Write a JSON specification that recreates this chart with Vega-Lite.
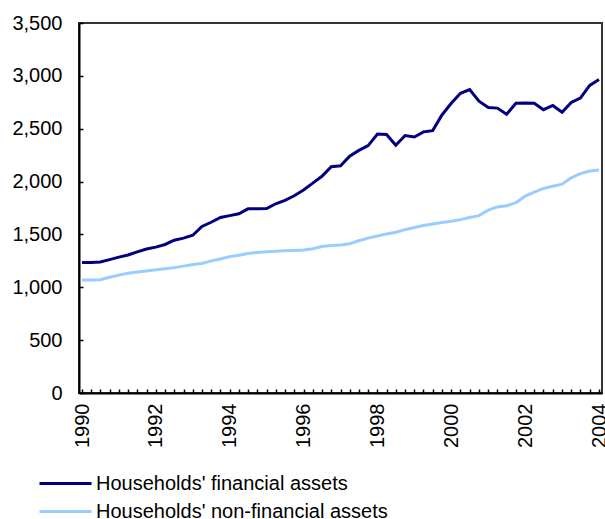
{
  "$schema": "https://vega.github.io/schema/vega-lite/v6.json",
  "width": 523,
  "height": 370,
  "autosize": {"type": "none"},
  "padding": {"left": 79, "top": 23, "right": 3, "bottom": 126},
  "background": "white",
  "config": {
    "font": "Liberation Sans",
    "view": {"stroke": "#333", "strokeWidth": 2},
    "axis": {"grid": false, "domainColor": "#000", "domainWidth": 2, "tickColor": "#000", "tickWidth": 1.5, "labelColor": "#000", "labelFont": "Liberation Sans", "labelFontSize": 20, "title": null}
  },
  "data": {"values": [
    {"date":"1990-01-01","series":"Households' financial assets","value":1235},
    {"date":"1990-04-01","series":"Households' financial assets","value":1235},
    {"date":"1990-07-01","series":"Households' financial assets","value":1240},
    {"date":"1990-10-01","series":"Households' financial assets","value":1262},
    {"date":"1991-01-01","series":"Households' financial assets","value":1285},
    {"date":"1991-04-01","series":"Households' financial assets","value":1305},
    {"date":"1991-07-01","series":"Households' financial assets","value":1335},
    {"date":"1991-10-01","series":"Households' financial assets","value":1362},
    {"date":"1992-01-01","series":"Households' financial assets","value":1380},
    {"date":"1992-04-01","series":"Households' financial assets","value":1405},
    {"date":"1992-07-01","series":"Households' financial assets","value":1445},
    {"date":"1992-10-01","series":"Households' financial assets","value":1465},
    {"date":"1993-01-01","series":"Households' financial assets","value":1492},
    {"date":"1993-04-01","series":"Households' financial assets","value":1575},
    {"date":"1993-07-01","series":"Households' financial assets","value":1615},
    {"date":"1993-10-01","series":"Households' financial assets","value":1660},
    {"date":"1994-01-01","series":"Households' financial assets","value":1678},
    {"date":"1994-04-01","series":"Households' financial assets","value":1695},
    {"date":"1994-07-01","series":"Households' financial assets","value":1742},
    {"date":"1994-10-01","series":"Households' financial assets","value":1742},
    {"date":"1995-01-01","series":"Households' financial assets","value":1745},
    {"date":"1995-04-01","series":"Households' financial assets","value":1790},
    {"date":"1995-07-01","series":"Households' financial assets","value":1822},
    {"date":"1995-10-01","series":"Households' financial assets","value":1866},
    {"date":"1996-01-01","series":"Households' financial assets","value":1920},
    {"date":"1996-04-01","series":"Households' financial assets","value":1985},
    {"date":"1996-07-01","series":"Households' financial assets","value":2050},
    {"date":"1996-10-01","series":"Households' financial assets","value":2140},
    {"date":"1997-01-01","series":"Households' financial assets","value":2150},
    {"date":"1997-04-01","series":"Households' financial assets","value":2240},
    {"date":"1997-07-01","series":"Households' financial assets","value":2295},
    {"date":"1997-10-01","series":"Households' financial assets","value":2340},
    {"date":"1998-01-01","series":"Households' financial assets","value":2450},
    {"date":"1998-04-01","series":"Households' financial assets","value":2445},
    {"date":"1998-07-01","series":"Households' financial assets","value":2343},
    {"date":"1998-10-01","series":"Households' financial assets","value":2435},
    {"date":"1999-01-01","series":"Households' financial assets","value":2422},
    {"date":"1999-04-01","series":"Households' financial assets","value":2470},
    {"date":"1999-07-01","series":"Households' financial assets","value":2482},
    {"date":"1999-10-01","series":"Households' financial assets","value":2630},
    {"date":"2000-01-01","series":"Households' financial assets","value":2740},
    {"date":"2000-04-01","series":"Households' financial assets","value":2835},
    {"date":"2000-07-01","series":"Households' financial assets","value":2870},
    {"date":"2000-10-01","series":"Households' financial assets","value":2760},
    {"date":"2001-01-01","series":"Households' financial assets","value":2700},
    {"date":"2001-04-01","series":"Households' financial assets","value":2695},
    {"date":"2001-07-01","series":"Households' financial assets","value":2637},
    {"date":"2001-10-01","series":"Households' financial assets","value":2740},
    {"date":"2002-01-01","series":"Households' financial assets","value":2744},
    {"date":"2002-04-01","series":"Households' financial assets","value":2740},
    {"date":"2002-07-01","series":"Households' financial assets","value":2680},
    {"date":"2002-10-01","series":"Households' financial assets","value":2720},
    {"date":"2003-01-01","series":"Households' financial assets","value":2655},
    {"date":"2003-04-01","series":"Households' financial assets","value":2748},
    {"date":"2003-07-01","series":"Households' financial assets","value":2790},
    {"date":"2003-10-01","series":"Households' financial assets","value":2910},
    {"date":"2004-01-01","series":"Households' financial assets","value":2965},
    {"date":"1990-01-01","series":"Households' non-financial assets","value":1069},
    {"date":"1990-04-01","series":"Households' non-financial assets","value":1069},
    {"date":"1990-07-01","series":"Households' non-financial assets","value":1072},
    {"date":"1990-10-01","series":"Households' non-financial assets","value":1095},
    {"date":"1991-01-01","series":"Households' non-financial assets","value":1115},
    {"date":"1991-04-01","series":"Households' non-financial assets","value":1132},
    {"date":"1991-07-01","series":"Households' non-financial assets","value":1145},
    {"date":"1991-10-01","series":"Households' non-financial assets","value":1155},
    {"date":"1992-01-01","series":"Households' non-financial assets","value":1165},
    {"date":"1992-04-01","series":"Households' non-financial assets","value":1176},
    {"date":"1992-07-01","series":"Households' non-financial assets","value":1186},
    {"date":"1992-10-01","series":"Households' non-financial assets","value":1200},
    {"date":"1993-01-01","series":"Households' non-financial assets","value":1216},
    {"date":"1993-04-01","series":"Households' non-financial assets","value":1225},
    {"date":"1993-07-01","series":"Households' non-financial assets","value":1250},
    {"date":"1993-10-01","series":"Households' non-financial assets","value":1268},
    {"date":"1994-01-01","series":"Households' non-financial assets","value":1290},
    {"date":"1994-04-01","series":"Households' non-financial assets","value":1303},
    {"date":"1994-07-01","series":"Households' non-financial assets","value":1320},
    {"date":"1994-10-01","series":"Households' non-financial assets","value":1330},
    {"date":"1995-01-01","series":"Households' non-financial assets","value":1337},
    {"date":"1995-04-01","series":"Households' non-financial assets","value":1341},
    {"date":"1995-07-01","series":"Households' non-financial assets","value":1345},
    {"date":"1995-10-01","series":"Households' non-financial assets","value":1349},
    {"date":"1996-01-01","series":"Households' non-financial assets","value":1352},
    {"date":"1996-04-01","series":"Households' non-financial assets","value":1365},
    {"date":"1996-07-01","series":"Households' non-financial assets","value":1385},
    {"date":"1996-10-01","series":"Households' non-financial assets","value":1395},
    {"date":"1997-01-01","series":"Households' non-financial assets","value":1400},
    {"date":"1997-04-01","series":"Households' non-financial assets","value":1412},
    {"date":"1997-07-01","series":"Households' non-financial assets","value":1440},
    {"date":"1997-10-01","series":"Households' non-financial assets","value":1465},
    {"date":"1998-01-01","series":"Households' non-financial assets","value":1485},
    {"date":"1998-04-01","series":"Households' non-financial assets","value":1505},
    {"date":"1998-07-01","series":"Households' non-financial assets","value":1520},
    {"date":"1998-10-01","series":"Households' non-financial assets","value":1545},
    {"date":"1999-01-01","series":"Households' non-financial assets","value":1565},
    {"date":"1999-04-01","series":"Households' non-financial assets","value":1585},
    {"date":"1999-07-01","series":"Households' non-financial assets","value":1598},
    {"date":"1999-10-01","series":"Households' non-financial assets","value":1612},
    {"date":"2000-01-01","series":"Households' non-financial assets","value":1625},
    {"date":"2000-04-01","series":"Households' non-financial assets","value":1640},
    {"date":"2000-07-01","series":"Households' non-financial assets","value":1660},
    {"date":"2000-10-01","series":"Households' non-financial assets","value":1678},
    {"date":"2001-01-01","series":"Households' non-financial assets","value":1730},
    {"date":"2001-04-01","series":"Households' non-financial assets","value":1760},
    {"date":"2001-07-01","series":"Households' non-financial assets","value":1772},
    {"date":"2001-10-01","series":"Households' non-financial assets","value":1800},
    {"date":"2002-01-01","series":"Households' non-financial assets","value":1862},
    {"date":"2002-04-01","series":"Households' non-financial assets","value":1900},
    {"date":"2002-07-01","series":"Households' non-financial assets","value":1935},
    {"date":"2002-10-01","series":"Households' non-financial assets","value":1955},
    {"date":"2003-01-01","series":"Households' non-financial assets","value":1975},
    {"date":"2003-04-01","series":"Households' non-financial assets","value":2035},
    {"date":"2003-07-01","series":"Households' non-financial assets","value":2075},
    {"date":"2003-10-01","series":"Households' non-financial assets","value":2100},
    {"date":"2004-01-01","series":"Households' non-financial assets","value":2110}
  ]},
  "mark": {"type": "line", "strokeWidth": 3, "interpolate": "linear"},
  "encoding": {
    "x": {
      "field": "date", "type": "temporal",
      "scale": {"type": "utc", "domain": ["1990-01-01", "2004-01-01"], "nice": false, "padding": 3},
      "axis": {
        "tickCount": {"interval": "month", "step": 3},
        "labelExpr": "utcmonth(datum.value) == 0 && utcyear(datum.value) % 2 == 0 ? utcFormat(datum.value, '%Y') : ''",
        "labelAngle": -90,
        "labelOverlap": false,
        "labelFlush": false,
        "tickSize": -4,
        "labelPadding": 14
      }
    },
    "y": {
      "field": "value", "type": "quantitative",
      "scale": {"domain": [0, 3500], "nice": false},
      "axis": {"values": [0, 500, 1000, 1500, 2000, 2500, 3000, 3500], "format": ",.0f", "tickSize": -4, "labelPadding": 21}
    },
    "color": {
      "field": "series", "type": "nominal",
      "scale": {"domain": ["Households' financial assets", "Households' non-financial assets"], "range": ["#000080", "#99CCFF"]},
      "legend": {
        "title": null, "orient": "none", "legendX": -25, "legendY": 449,
        "symbolType": "M-2.6,0H2.6", "symbolSize": 400, "symbolStrokeWidth": 3,
        "labelFontSize": 20, "labelColor": "#000", "labelFont": "Liberation Sans", "labelLimit": 0,
        "labelOffset": 19, "rowPadding": 6, "padding": 0
      }
    }
  }
}
